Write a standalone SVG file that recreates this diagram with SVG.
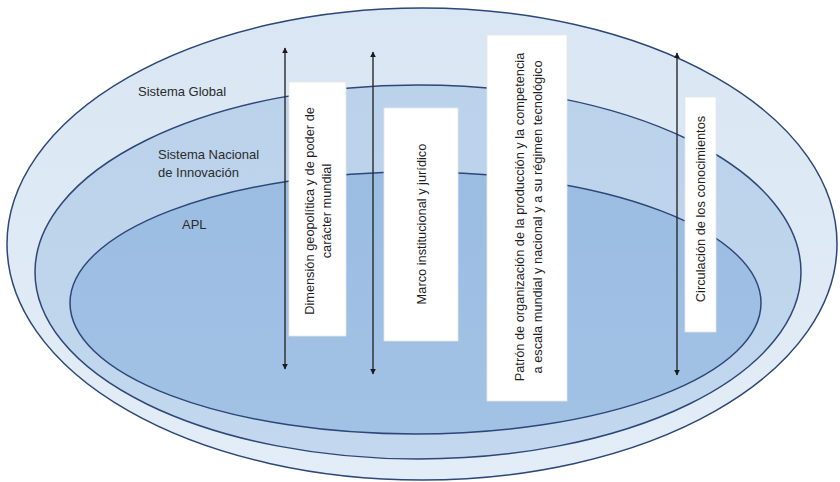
<svg xmlns="http://www.w3.org/2000/svg" width="840" height="482" viewBox="0 0 840 482">
<defs>
<marker id="ah" viewBox="0 0 10 10" refX="9" refY="5" markerWidth="6" markerHeight="6" orient="auto-start-reverse" markerUnits="userSpaceOnUse">
<path d="M0,0 L10,5 L0,10 z" fill="#1a1a1a"/>
</marker>
<linearGradient id="g1" x1="0" y1="0" x2="0" y2="1">
<stop offset="0" stop-color="#d9e6f3"/><stop offset="1" stop-color="#e3edf7"/>
</linearGradient>
<linearGradient id="g2" x1="0" y1="0" x2="0" y2="1">
<stop offset="0" stop-color="#bad2ea"/><stop offset="1" stop-color="#c3d8ee"/>
</linearGradient>
<linearGradient id="g3" x1="0" y1="0" x2="0" y2="1">
<stop offset="0" stop-color="#9bbde2"/><stop offset="1" stop-color="#a2c2e5"/>
</linearGradient>
</defs>
<style>
.ring{stroke:#2c4778;stroke-width:1.5}
.lbl{font-family:"Liberation Sans",Arial,sans-serif;font-size:13px;fill:#2b2b2b}
.box{fill:#ffffff;stroke:#e6e6e6;stroke-width:0.8}
.btx{font-family:"Liberation Sans",Arial,sans-serif;font-size:12.8px;fill:#1e1e1e;text-anchor:middle}
.arr{stroke:#2a2a2a;stroke-width:1.4;fill:none;marker-start:url(#ah);marker-end:url(#ah)}
</style>
<rect width="840" height="482" fill="#ffffff"/>
<g id="sistema-global">
<ellipse class="ring" cx="422" cy="244" rx="415" ry="236" fill="url(#g1)"/>
<text class="lbl" x="138" y="96">Sistema Global</text>
</g>
<g id="sistema-nacional">
<ellipse class="ring" cx="418" cy="272" rx="383" ry="187" fill="url(#g2)"/>
<text class="lbl" x="158" y="159">Sistema Nacional</text>
<text class="lbl" x="158" y="177">de Innovación</text>
</g>
<g id="apl">
<ellipse class="ring" cx="415.5" cy="303" rx="345.5" ry="131" fill="url(#g3)"/>
<text class="lbl" x="182" y="229">APL</text>
</g>
<g id="connectors">
<line class="arr" x1="285" y1="48" x2="285" y2="369"/>
<line class="arr" x1="373" y1="52" x2="373" y2="374"/>
<line class="arr" x1="677" y1="53" x2="677" y2="375"/>
</g>
<g id="box-dimension">
<rect class="box" x="289" y="82" width="57" height="254"/>
<text class="btx" transform="translate(317.5,211) rotate(-90)"><tspan x="0" y="-4">Dimensión geopolítica y de poder de</tspan><tspan x="0" y="13">carácter mundial</tspan></text>
</g>
<g id="box-marco">
<rect class="box" x="384" y="108" width="74" height="233"/>
<text class="btx" transform="translate(421,224) rotate(-90)" x="0" y="4.5">Marco institucional y jurídico</text>
</g>
<g id="box-patron">
<rect class="box" x="487" y="35" width="80" height="366"/>
<text class="btx" transform="translate(527,217) rotate(-90)"><tspan x="0" y="-3">Patrón de organización de la producción y la competencia</tspan><tspan x="0" y="15">a escala mundial y nacional y a su régimen tecnológico</tspan></text>
</g>
<g id="box-circulacion">
<rect class="box" x="685" y="97" width="31" height="235"/>
<text class="btx" transform="translate(700.5,209) rotate(-90)" x="0" y="4.5">Circulación de los conocimientos</text>
</g>
</svg>
